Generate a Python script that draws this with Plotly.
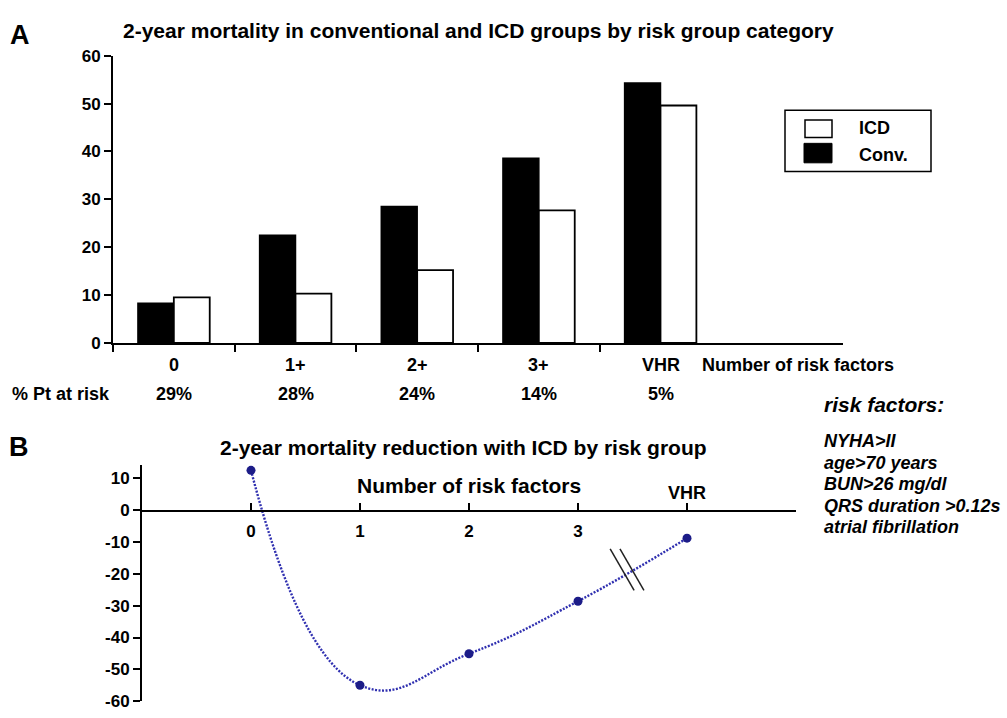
import plotly.graph_objects as go

# ---- data -------------------------------------------------------------
risk_groups = ["0", "1+", "2+", "3+", "VHR"]
pct_at_risk = ["29%", "28%", "24%", "14%", "5%"]
conv_mortality = [8.3, 22.5, 28.5, 38.6, 54.3]
icd_mortality = [9.5, 10.3, 15.2, 27.7, 49.6]

reduction_x = [0, 1, 2, 3, 4]
reduction_ticktext = ["0", "1", "2", "3", ""]
mortality_reduction = [12.5, -55.0, -45.1, -28.6, -8.8]

risk_factor_list = [
    "NYHA>II",
    "age>70 years",
    "BUN>26 mg/dl",
    "QRS duration >0.12s",
    "atrial fibrillation",
]

# ---- page geometry helpers (pixels -> paper fractions) ----------------
W, H = 1007, 718


def px(x):
    return x / W


def py(y):
    return (H - y) / H


FONT = "Liberation Sans, Arial, Helvetica, sans-serif"
BLUE_LINE = "#3030b0"
BLUE_MARK = "#1c1c88"

fig = go.Figure()

# ---- panel A: grouped bars ---------------------------------------------
cat_pos = list(range(len(risk_groups)))
fig.add_trace(go.Bar(
    x=cat_pos, y=conv_mortality, name="Conv.",
    marker=dict(color="black", line=dict(color="black", width=1.5)),
    xaxis="x", yaxis="y", showlegend=False,
))
fig.add_trace(go.Bar(
    x=cat_pos, y=icd_mortality, name="ICD",
    marker=dict(color="white", line=dict(color="black", width=1.8)),
    xaxis="x", yaxis="y", showlegend=False,
))

# ---- panel B: spline of mortality reduction ---------------------------
fig.add_trace(go.Scatter(
    x=reduction_x, y=mortality_reduction, mode="lines+markers",
    line=dict(color=BLUE_LINE, width=2.4, dash="2px,1.5px", shape="spline", smoothing=1.3),
    marker=dict(color=BLUE_MARK, size=9, symbol="circle"),
    xaxis="x2", yaxis="y2", showlegend=False,
))

fig.update_layout(
    width=W, height=H,
    margin=dict(l=0, r=0, t=0, b=0),
    paper_bgcolor="white", plot_bgcolor="white",
    barmode="group", bargap=0.41, bargroupgap=0.0,
    font=dict(family=FONT, color="black"),
    xaxis=dict(
        domain=[px(113), px(843)], anchor="y",
        range=[-0.5, 5.5],
        tickvals=[-0.5, 0.5, 1.5, 2.5, 3.5],
        ticktext=["", "", "", "", ""],
        ticks="outside", ticklen=7, tickwidth=1.5, tickcolor="black",
        showline=True, linecolor="black", linewidth=2,
        showgrid=False, zeroline=False, fixedrange=True,
    ),
    yaxis=dict(
        domain=[py(343), py(48)], anchor="x",
        range=[0, 60], tickvals=[0, 10, 20, 30, 40, 50, 60],
        ticktext=[f"<b>{v}</b>" for v in [0, 10, 20, 30, 40, 50, 60]],
        tickfont=dict(family=FONT, size=17, color="black"),
        ticks="outside", ticklen=7, tickwidth=1.5, tickcolor="black",
        showline=True, linecolor="black", linewidth=2,
        showgrid=False, zeroline=False, fixedrange=True,
    ),
    xaxis2=dict(
        domain=[px(142), px(796)], anchor="free", position=py(516),
        range=[-1, 5],
        tickvals=reduction_x + [5],
        ticktext=[f"<b>{t}</b>" if t else "" for t in reduction_ticktext] + [""],
        tickfont=dict(family=FONT, size=17, color="black"),
        ticklabelstandoff=4,
        ticks="inside", ticklen=7, tickwidth=1.5, tickcolor="black",
        showline=True, linecolor="black", linewidth=2,
        showgrid=False, zeroline=False, fixedrange=True,
    ),
    yaxis2=dict(
        domain=[py(711), py(468)], anchor="x2",
        range=[-60, 14.3], tickvals=[10, 0, -10, -20, -30, -40, -50, -60],
        ticktext=[f"<b>{v}</b>" for v in [10, 0, -10, -20, -30, -40, -50, -60]],
        tickfont=dict(family=FONT, size=17, color="black"),
        ticks="outside", ticklen=7, tickwidth=1.5, tickcolor="black",
        showline=True, linecolor="black", linewidth=2,
        showgrid=False, zeroline=False, fixedrange=True,
    ),
)

annotations = []


def text(x, y, s, size=18, xref="paper", yref="paper", xanchor="center", italic=False):
    body = f"<b>{s}</b>"
    if italic:
        body = f"<i>{body}</i>"
    annotations.append(dict(
        x=x, y=y, xref=xref, yref=yref, text=body, showarrow=False,
        xanchor=xanchor, yanchor="middle",
        font=dict(family=FONT, size=size, color="black"),
    ))


# panel letters and titles
text(px(8), py(27), "A", size=27, xanchor="left")
text(px(478), py(22), "2-year mortality in conventional and ICD groups by risk group category", size=21)
text(px(7), py(450), "B", size=27, xanchor="left")
text(px(463), py(450), "2-year mortality reduction with ICD by risk group", size=21)

# panel A category labels and patient share row
for i, (g, p) in enumerate(zip(risk_groups, pct_at_risk)):
    text(i, py(366), g, xref="x")
    text(i, py(395), p, xref="x")
text(px(700), py(366), "Number of risk factors", xanchor="left")
text(px(10), py(395), "% Pt at risk", xanchor="left")

# panel B axis captions
text(2, py(489), "Number of risk factors", size=21, xref="x2")
text(4, py(497), "VHR", xref="x2")

# risk factor list
text(px(822), py(406), "risk factors:", size=21, xanchor="left", italic=True)
for k, rf in enumerate(risk_factor_list):
    text(px(822), py(444 + 22 * k), rf, size=18, xanchor="left", italic=True)

# legend drawn as a framed key
text(px(857), py(122), "ICD", xanchor="left")
text(px(857), py(150), "Conv.", xanchor="left")

shapes = [
    dict(type="rect", xref="paper", yref="paper", x0=px(785), x1=px(931), y0=py(167), y1=py(104),
         line=dict(color="black", width=1.5), fillcolor="rgba(0,0,0,0)"),
    dict(type="rect", xref="paper", yref="paper", x0=px(805), x1=px(832), y0=py(132), y1=py(114),
         line=dict(color="black", width=1.5), fillcolor="white"),
    dict(type="rect", xref="paper", yref="paper", x0=px(804), x1=px(832), y0=py(158), y1=py(138),
         line=dict(color="black", width=1), fillcolor="black"),
]

# axis-break marks on the segment between "3" and "VHR"
bx = 3.45
by = mortality_reduction[3] + (bx - 3) * (mortality_reduction[4] - mortality_reduction[3])
for dx in (-0.045, 0.045):
    shapes.append(dict(
        type="line", xref="x2", yref="y2",
        x0=bx + dx - 0.11, y0=by + 7.5,
        x1=bx + dx + 0.11, y1=by - 5.5,
        line=dict(color="#222222", width=1.5),
    ))

fig.update_layout(annotations=annotations, shapes=shapes)

fig.write_html("out.html")
